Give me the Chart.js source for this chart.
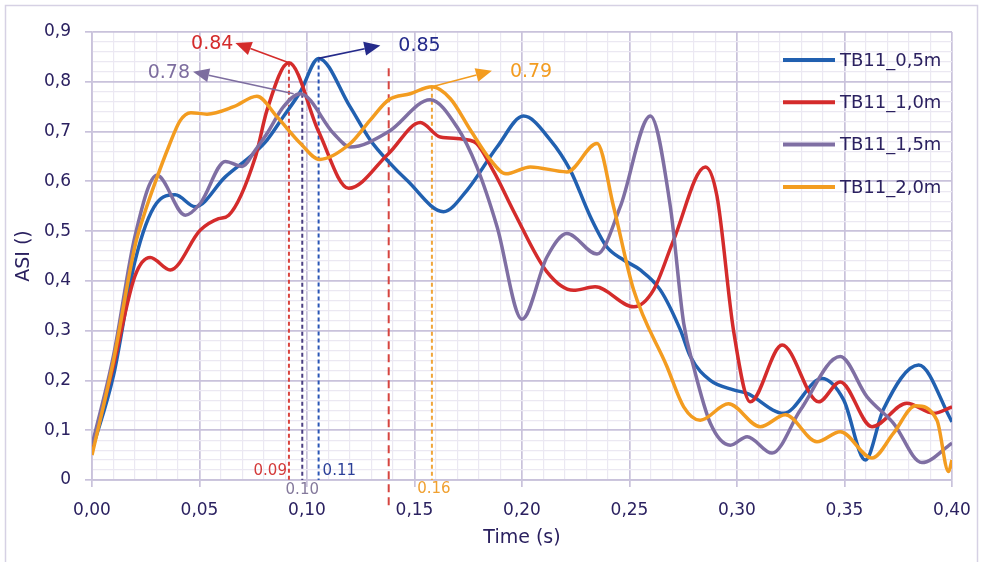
<!DOCTYPE html>
<html>
<head>
<meta charset="utf-8">
<script src="https://cdn.jsdelivr.net/npm/chart.js@4.4.1/dist/chart.umd.min.js"></script>
<style>
  html, body { margin: 0; padding: 0; background: #fff; }
  #wrap { width: 986px; height: 562px; }
</style>
</head>
<body>
<div id="wrap"><canvas id="asiChart" width="986" height="562"></canvas></div>
<script>
// series (time in s, ASI)
const seriesNames = ['TB11_0,5m', 'TB11_1,0m', 'TB11_1,5m', 'TB11_2,0m'];
const seriesColors = ['#2160b0', '#d42b2b', '#7f6fa3', '#f39c20'];

const blueTime = [0, 0.01, 0.02, 0.03, 0.0387, 0.048, 0.062, 0.0744, 0.0814, 0.089, 0.0969, 0.1054, 0.120, 0.1294, 0.138, 0.1465, 0.1635, 0.1744, 0.1884, 0.2007, 0.2132, 0.2225, 0.2318, 0.2395, 0.2473, 0.255, 0.2643, 0.2737, 0.2783, 0.2876, 0.2984, 0.3047, 0.3217, 0.3395, 0.3496, 0.3597, 0.368, 0.3845, 0.40];
const blueASI = [0.06, 0.21, 0.44, 0.556, 0.573, 0.549, 0.609, 0.653, 0.683, 0.73, 0.78, 0.847, 0.75, 0.683, 0.639, 0.602, 0.539, 0.582, 0.669, 0.731, 0.683, 0.622, 0.529, 0.468, 0.442, 0.422, 0.382, 0.301, 0.248, 0.2, 0.181, 0.174, 0.134, 0.204, 0.161, 0.04, 0.141, 0.231, 0.117];

const redTime = [0, 0.01, 0.02, 0.0271, 0.0364, 0.0504, 0.0589, 0.0636, 0.076, 0.0814, 0.0916, 0.1054, 0.1194, 0.138, 0.1527, 0.162, 0.1775, 0.1868, 0.1961, 0.2116, 0.224, 0.234, 0.252, 0.2612, 0.2705, 0.2853, 0.2907, 0.2984, 0.3062, 0.321, 0.338, 0.348, 0.3628, 0.379, 0.3915, 0.40];
const redASI = [0.06, 0.23, 0.41, 0.447, 0.422, 0.502, 0.525, 0.532, 0.649, 0.743, 0.838, 0.70, 0.586, 0.656, 0.718, 0.689, 0.68, 0.62, 0.54, 0.418, 0.381, 0.388, 0.348, 0.382, 0.482, 0.629, 0.57, 0.30, 0.157, 0.271, 0.157, 0.197, 0.107, 0.154, 0.134, 0.147];

const purpleTime = [0, 0.01, 0.02, 0.0302, 0.0434, 0.0504, 0.062, 0.0698, 0.076, 0.0814, 0.0891, 0.0969, 0.1124, 0.1201, 0.138, 0.1573, 0.1698, 0.179, 0.1884, 0.2, 0.2116, 0.2209, 0.2349, 0.2457, 0.2597, 0.269, 0.2752, 0.2798, 0.2876, 0.2969, 0.3047, 0.3163, 0.3294, 0.348, 0.3605, 0.3728, 0.386, 0.40];
const purpleASI = [0.07, 0.25, 0.49, 0.612, 0.532, 0.556, 0.64, 0.63, 0.663, 0.696, 0.75, 0.776, 0.696, 0.669, 0.70, 0.764, 0.709, 0.629, 0.509, 0.323, 0.448, 0.495, 0.454, 0.549, 0.731, 0.549, 0.315, 0.228, 0.114, 0.07, 0.087, 0.054, 0.14, 0.248, 0.167, 0.114, 0.035, 0.074];

const orangeTime = [0, 0.01, 0.02, 0.024, 0.03, 0.0357, 0.041, 0.046, 0.0535, 0.0659, 0.0767, 0.086, 0.097, 0.1058, 0.1201, 0.1294, 0.138, 0.148, 0.1581, 0.1667, 0.176, 0.1853, 0.1925, 0.2039, 0.2209, 0.2349, 0.2426, 0.2519, 0.2674, 0.2752, 0.2829, 0.296, 0.3108, 0.3225, 0.3372, 0.348, 0.3628, 0.3728, 0.383, 0.393, 0.3984, 0.40];
const orangeASI = [0.05, 0.24, 0.47, 0.53, 0.605, 0.67, 0.722, 0.738, 0.735, 0.75, 0.771, 0.73, 0.676, 0.644, 0.676, 0.723, 0.764, 0.776, 0.79, 0.766, 0.703, 0.643, 0.615, 0.629, 0.619, 0.676, 0.549, 0.382, 0.228, 0.147, 0.12, 0.153, 0.107, 0.131, 0.077, 0.097, 0.044, 0.094, 0.149, 0.12, 0.017, 0.04];

// vertical marker lines at the peak times
const markerTimes = [0.0916, 0.0978, 0.1054, 0.138, 0.1581];
const markerTops = [0.838, 0.776, 0.847, 0.827, 0.79];
const markerBottoms = [0, 0, 0, -0.057, 0];
const markerLabels = ['0.09', '0.10', '0.11', '', '0.16'];

// peak value call-outs (arrow from peak to label)
const peakLabels = ['0.84', '0.85', '0.78', '0.79'];
const peakFromTime = [0.0916, 0.1054, 0.0938, 0.1581];
const peakFromASI = [0.838, 0.847, 0.776, 0.79];
const peakToTime = [0.0667, 0.1341, 0.047, 0.186];
const peakToASI = [0.878, 0.873, 0.820, 0.822];

const FONT = "'DejaVu Sans', sans-serif";
const TEXT = '#2b2160';
const GRID_MAJOR = '#c9c2db';
const GRID_MINOR = '#ebe8f2';

const markerStyle = [
    { color: '#d9443f', dash: [4, 3], text: '#d43a3a', align: 'right', dx: -2, ly: 0.017 },
    { color: '#4b3f82', dash: [4, 3], text: '#857a9c', align: 'center', dx: 0, ly: -0.021 },
    { color: '#2a55b5', dash: [4, 3], text: '#2b3f98', align: 'left', dx: 4, ly: 0.017 },
    { color: '#d64540', dash: [8, 5], text: '#d64540', align: 'left', dx: 0, ly: 0 },
    { color: '#f0a53a', dash: [4, 3], text: '#f0a030', align: 'center', dx: 2, ly: -0.019 }
];
const peakStyle = [
    { color: '#d42b2b', side: 'left', gap: 2 },
    { color: '#242a8a', side: 'right', gap: 18 },
    { color: '#7d6d9f', side: 'left', gap: 3 },
    { color: '#f39c20', side: 'right', gap: 18 }
];

const toPoints = (times, vals) => times.map((t, i) => ({ x: t, y: vals[i] }));

function isMajorX(v) { return Math.round(v * 100) % 5 === 0; }
function isMajorY(v) { return Math.round(v * 100) % 10 === 0; }

const frame = {
    id: 'frame',
    beforeDraw(chart) {
        const { ctx, width, height } = chart;
        ctx.save();
        ctx.fillStyle = '#ffffff';
        ctx.fillRect(0, 0, width, height);
        ctx.strokeStyle = '#d6d1e4';
        ctx.lineWidth = 1.5;
        ctx.strokeRect(5.5, 5.5, 972, height + 20);
        ctx.restore();
    }
};

const peakMarkers = {
    id: 'peakMarkers',
    beforeDatasetsDraw(chart) {
        const { ctx, scales: { x, y } } = chart;
        ctx.save();
        markerTimes.forEach((t, i) => {
            const s = markerStyle[i];
            const px = x.getPixelForValue(t);
            ctx.beginPath();
            ctx.setLineDash(s.dash);
            ctx.strokeStyle = s.color;
            ctx.lineWidth = 2;
            ctx.moveTo(px, y.getPixelForValue(markerTops[i]));
            ctx.lineTo(px, y.getPixelForValue(markerBottoms[i]));
            ctx.stroke();
        });
        ctx.restore();
    },
    afterDatasetsDraw(chart) {
        const { ctx, scales: { x, y }, chartArea } = chart;
        ctx.save();
        ctx.setLineDash([]);
        ctx.textBaseline = 'middle';

        // marker labels
        ctx.font = '15px ' + FONT;
        markerTimes.forEach((t, i) => {
            if (!markerLabels[i]) return;
            const s = markerStyle[i];
            ctx.fillStyle = s.text;
            ctx.textAlign = s.align;
            ctx.fillText(markerLabels[i], x.getPixelForValue(t) + s.dx, y.getPixelForValue(s.ly));
        });

        // arrows + peak values
        ctx.font = '19px ' + FONT;
        peakLabels.forEach((label, i) => {
            const s = peakStyle[i];
            const x0 = x.getPixelForValue(peakFromTime[i]);
            const y0 = y.getPixelForValue(peakFromASI[i]);
            const x1 = x.getPixelForValue(peakToTime[i]);
            const y1 = y.getPixelForValue(peakToASI[i]);
            const ang = Math.atan2(y1 - y0, x1 - x0);
            const headLen = 16, headW = 7;
            const bx = x1 - headLen * Math.cos(ang), by = y1 - headLen * Math.sin(ang);
            ctx.strokeStyle = s.color;
            ctx.fillStyle = s.color;
            ctx.lineWidth = 1.6;
            ctx.beginPath();
            ctx.moveTo(x0, y0);
            ctx.lineTo(bx, by);
            ctx.stroke();
            ctx.beginPath();
            ctx.moveTo(x1, y1);
            ctx.lineTo(bx + headW * Math.sin(ang), by - headW * Math.cos(ang));
            ctx.lineTo(bx - headW * Math.sin(ang), by + headW * Math.cos(ang));
            ctx.closePath();
            ctx.fill();
            ctx.textAlign = s.side === 'left' ? 'right' : 'left';
            const lx = s.side === 'left' ? x1 - s.gap : x1 + s.gap;
            ctx.fillText(label, lx, y1 + 1);
        });

        // legend inside the plot, top right
        ctx.font = '18px ' + FONT;
        ctx.textAlign = 'left';
        chart.data.datasets.forEach((ds, i) => {
            const ly = chartArea.top + 28 + i * 42.3;
            ctx.strokeStyle = ds.borderColor;
            ctx.lineWidth = 4;
            ctx.beginPath();
            ctx.moveTo(chartArea.right - 169, ly);
            ctx.lineTo(chartArea.right - 117, ly);
            ctx.stroke();
            ctx.fillStyle = TEXT;
            ctx.fillText(ds.label, chartArea.right - 112, ly + 1);
        });
        ctx.restore();
    }
};

const seriesTimes = [blueTime, redTime, purpleTime, orangeTime];
const seriesValues = [blueASI, redASI, purpleASI, orangeASI];

const datasets = seriesNames.map((name, i) => ({
    label: name,
    data: toPoints(seriesTimes[i], seriesValues[i]),
    borderColor: seriesColors[i],
    backgroundColor: seriesColors[i],
    borderWidth: 3.5,
    pointRadius: 0,
    fill: false,
    cubicInterpolationMode: 'monotone',
    order: 4 - i
}));

new Chart(document.getElementById('asiChart'), {
    type: 'line',
    data: { datasets: datasets },
    options: {
        responsive: false,
        animation: false,
        devicePixelRatio: 1,
        layout: { padding: { left: 5, right: 34, top: 32, bottom: 0 } },
        plugins: {
            legend: { display: false },
            tooltip: { enabled: false }
        },
        scales: {
            x: {
                type: 'linear',
                min: 0,
                max: 0.4,
                afterFit: (scale) => { scale.height = 82; },
                ticks: {
                    stepSize: 0.01,
                    autoSkip: false,
                    maxRotation: 0,
                    minRotation: 0,
                    padding: 13,
                    color: TEXT,
                    font: { family: FONT, size: 17 },
                    callback: (v) => isMajorX(v) ? v.toFixed(2).replace('.', ',') : ''
                },
                grid: {
                    color: (c) => isMajorX(c.tick.value) ? GRID_MAJOR : GRID_MINOR,
                    lineWidth: (c) => isMajorX(c.tick.value) ? 1.7 : 1.2,
                    tickColor: (c) => isMajorX(c.tick.value) ? GRID_MAJOR : 'rgba(0,0,0,0)',
                    tickLength: 7
                },
                border: { color: GRID_MAJOR, width: 1.7 },
                title: {
                    display: true,
                    text: 'Time (s)',
                    color: TEXT,
                    font: { family: FONT, size: 19 },
                    padding: { top: 0, bottom: 13 }
                }
            },
            y: {
                min: 0,
                max: 0.9,
                afterFit: (scale) => { scale.width = 87; },
                ticks: {
                    stepSize: 0.02,
                    autoSkip: false,
                    padding: 14,
                    color: TEXT,
                    font: { family: FONT, size: 17 },
                    callback: (v) => {
                        if (!isMajorY(v)) return '';
                        return v === 0 ? '0' : (Math.round(v * 10) / 10).toFixed(1).replace('.', ',');
                    }
                },
                grid: {
                    color: (c) => isMajorY(c.tick.value) ? GRID_MAJOR : GRID_MINOR,
                    lineWidth: (c) => isMajorY(c.tick.value) ? 1.7 : 1.2,
                    tickColor: (c) => isMajorY(c.tick.value) ? GRID_MAJOR : 'rgba(0,0,0,0)',
                    tickLength: 7
                },
                border: { color: GRID_MAJOR, width: 1.7 },
                title: {
                    display: true,
                    text: 'ASI ()',
                    color: TEXT,
                    font: { family: FONT, size: 19 },
                    padding: { top: 8, bottom: 0 }
                }
            }
        }
    },
    plugins: [frame, peakMarkers]
});
</script>
</body>
</html>
